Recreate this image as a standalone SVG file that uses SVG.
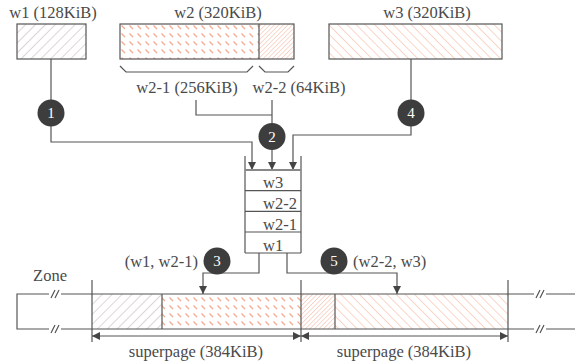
<svg xmlns="http://www.w3.org/2000/svg" width="575" height="364" viewBox="0 0 575 364">
<style>
text{font-family:"Liberation Serif","Times New Roman",serif;font-size:16.5px;fill:#4a4a4a}
.num{fill:#fff;font-size:15px;text-anchor:middle}
.c{fill:#3d3d3d}
.ln{fill:none;stroke:#555;stroke-width:1.2}
.box{stroke:#555;stroke-width:1.2}
.mid{text-anchor:middle}
</style>
<defs>
<pattern id="hg" width="7" height="7" patternUnits="userSpaceOnUse" patternTransform="rotate(45)"><rect width="7" height="7" fill="#fff"/><line x1="0" y1="0" x2="0" y2="7" stroke="#bfb5ad" stroke-width="1.1"/></pattern>
<pattern id="hp" width="6.5" height="6.5" patternUnits="userSpaceOnUse" patternTransform="rotate(-45)"><rect width="6.5" height="6.5" fill="#fff"/><line x1="0" y1="0" x2="0" y2="6.5" stroke="#f5b39c" stroke-width="1.1"/></pattern>
<pattern id="hd" width="3.2" height="3.2" patternUnits="userSpaceOnUse" patternTransform="rotate(45)"><rect width="3.2" height="3.2" fill="#fff"/><line x1="0" y1="0" x2="0" y2="3.2" stroke="#f5b39c" stroke-width="1"/></pattern>
<pattern id="dt" width="8" height="8" patternUnits="userSpaceOnUse"><rect width="8" height="8" fill="#fff"/><line x1="1.5" y1="1.5" x2="5" y2="5" stroke="#f3a88e" stroke-width="1.2"/></pattern>
<marker id="ah" viewBox="0 0 10 10" refX="10" refY="5" markerWidth="8" markerHeight="8" markerUnits="userSpaceOnUse" orient="auto-start-reverse"><path d="M0,0 L10,5 L0,10 z" fill="#444"/></marker>
</defs>

<g id="w1">
<rect class="box" x="17" y="24" width="69" height="35" fill="url(#hg)"/>
<text class="mid" x="53" y="18">w1 (128KiB)</text>
</g>
<g id="w2">
<rect x="120" y="24" width="139" height="35" fill="url(#dt)"/>
<rect x="259" y="24" width="35" height="35" fill="url(#hd)"/>
<rect class="box" x="120" y="24" width="174" height="35" fill="none"/>
<line class="box" x1="259" y1="24" x2="259" y2="59"/>
<text class="mid" x="218" y="18">w2 (320KiB)</text>
<path class="ln" d="M120,66 L126,72 L247,72 L253,66"/>
<path class="ln" d="M259,66 L265,72 L288,72 L294,66"/>
<text class="mid" x="187" y="93">w2-1 (256KiB)</text>
<text class="mid" x="299" y="93">w2-2 (64KiB)</text>
</g>
<g id="w3">
<rect class="box" x="329" y="24" width="173" height="35" fill="url(#hp)"/>
<text class="mid" x="427" y="18">w3 (320KiB)</text>
</g>

<g id="connectors">
<path class="ln" d="M51,59 V100"/>
<path class="ln" d="M51,126 V142 H252 V170" marker-end="url(#ah)"/>
<path class="ln" d="M196,100 V115 H272"/>
<path class="ln" d="M272,100 V123"/>
<path class="ln" d="M272,150 V170" marker-end="url(#ah)"/>
<path class="ln" d="M411,59 V100"/>
<path class="ln" d="M411,126 V135 H293 V170" marker-end="url(#ah)"/>
<path class="ln" d="M259,253 V273 H203 V294" marker-end="url(#ah)"/>
<path class="ln" d="M287,253 V273 H397 V294" marker-end="url(#ah)"/>
</g>

<g id="queue">
<line class="ln" x1="245" y1="156" x2="245" y2="253"/>
<line class="ln" x1="301" y1="156" x2="301" y2="253"/>
<line x1="245" y1="170" x2="301" y2="170" stroke="#888" stroke-width="2"/>
<line class="ln" x1="245" y1="190.7" x2="301" y2="190.7"/>
<line class="ln" x1="245" y1="211.3" x2="301" y2="211.3"/>
<line class="ln" x1="245" y1="232" x2="301" y2="232"/>
<line class="ln" x1="245" y1="253" x2="301" y2="253"/>
<text x="263" y="188">w3</text>
<text x="263" y="209">w2-2</text>
<text x="263" y="230">w2-1</text>
<text x="263" y="251">w1</text>
</g>

<g id="step1"><circle class="c" cx="51" cy="113" r="13.5"/><text class="num" x="51" y="118">1</text></g>
<g id="step2"><circle class="c" cx="272" cy="136.5" r="13.5"/><text class="num" x="272" y="141.5">2</text></g>
<g id="step4"><circle class="c" cx="411" cy="113" r="13.5"/><text class="num" x="411" y="118">4</text></g>
<g id="step3"><circle class="c" cx="217" cy="261" r="13.5"/><text class="num" x="217" y="266">3</text>
<text x="198" y="267" text-anchor="end">(w1, w2-1)</text></g>
<g id="step5"><circle class="c" cx="334" cy="261" r="13.5"/><text class="num" x="334" y="266">5</text>
<text x="353" y="267">(w2-2, w3)</text></g>

<g id="zone">
<text class="mid" x="50" y="281">Zone</text>
<rect x="92" y="294" width="70" height="35" fill="url(#hg)"/>
<rect x="162" y="294" width="139" height="35" fill="url(#dt)"/>
<rect x="301" y="294" width="34" height="35" fill="url(#hd)"/>
<rect x="335" y="294" width="173" height="35" fill="url(#hp)"/>
<path class="ln" d="M575,294 H17 V329 H575"/>
<line class="ln" x1="162" y1="294" x2="162" y2="329"/>
<line class="ln" x1="335" y1="294" x2="335" y2="329"/>
<line class="ln" x1="92" y1="280" x2="92" y2="342"/>
<line class="ln" x1="301" y1="280" x2="301" y2="342"/>
<line class="ln" x1="508" y1="280" x2="508" y2="342"/>
<rect x="49" y="290" width="12" height="8" fill="#fff"/>
<rect x="49" y="325" width="12" height="8" fill="#fff"/>
<rect x="534" y="290" width="12" height="8" fill="#fff"/>
<rect x="534" y="325" width="12" height="8" fill="#fff"/>
<path class="ln" d="M51,298 L55,290 M55,298 L59,290 M51,333 L55,325 M55,333 L59,325 M536,298 L540,290 M540,298 L544,290 M536,333 L540,325 M540,333 L544,325"/>
<line class="ln" x1="92" y1="336" x2="301" y2="336" marker-start="url(#ah)" marker-end="url(#ah)"/>
<line class="ln" x1="301" y1="336" x2="508" y2="336" marker-start="url(#ah)" marker-end="url(#ah)"/>
<text class="mid" x="196" y="357">superpage (384KiB)</text>
<text class="mid" x="404" y="357">superpage (384KiB)</text>
</g>
</svg>
